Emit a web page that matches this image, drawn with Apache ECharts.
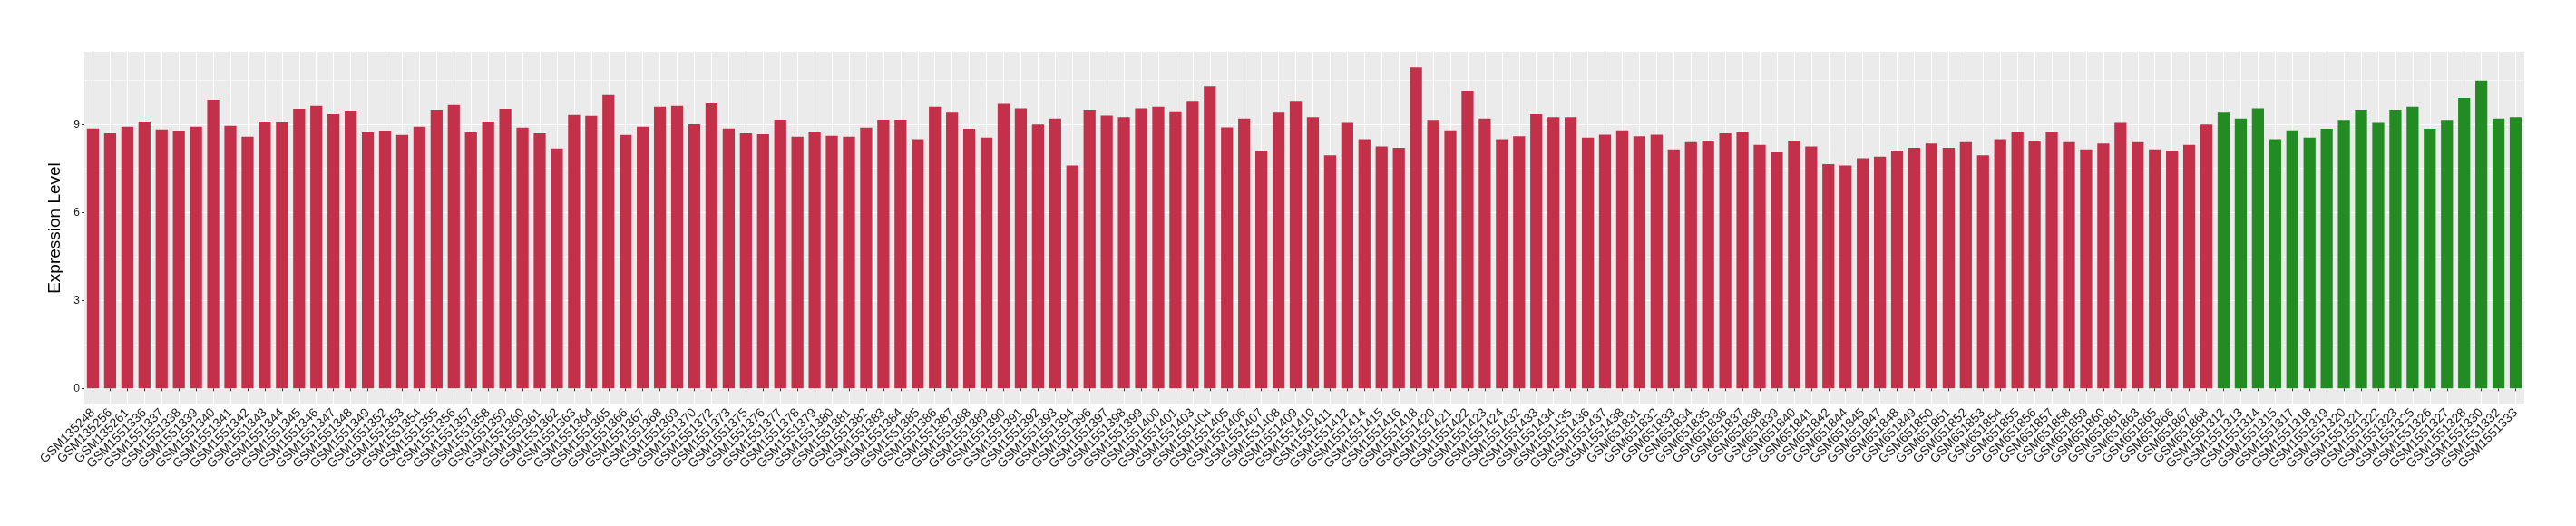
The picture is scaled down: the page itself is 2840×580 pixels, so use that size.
<!DOCTYPE html>
<html>
<head>
<meta charset="utf-8">
<script src="https://cdn.jsdelivr.net/npm/echarts@6/dist/echarts.min.js"></script>
<style>
  html, body { margin: 0; padding: 0; background: #fff; }
  #chart { width: 2840px; height: 580px; }
</style>
</head>
<body>
<div id="chart"></div>
<script>
// samples in the red group, then the green group
const redSamples = [
  'GSM135248', 'GSM135256', 'GSM135261', 'GSM1551336', 'GSM1551337', 'GSM1551338', 'GSM1551339', 'GSM1551340',
  'GSM1551341', 'GSM1551342', 'GSM1551343', 'GSM1551344', 'GSM1551345', 'GSM1551346', 'GSM1551347', 'GSM1551348',
  'GSM1551349', 'GSM1551352', 'GSM1551353', 'GSM1551354', 'GSM1551355', 'GSM1551356', 'GSM1551357', 'GSM1551358',
  'GSM1551359', 'GSM1551360', 'GSM1551361', 'GSM1551362', 'GSM1551363', 'GSM1551364', 'GSM1551365', 'GSM1551366',
  'GSM1551367', 'GSM1551368', 'GSM1551369', 'GSM1551370', 'GSM1551372', 'GSM1551373', 'GSM1551375', 'GSM1551376',
  'GSM1551377', 'GSM1551378', 'GSM1551379', 'GSM1551380', 'GSM1551381', 'GSM1551382', 'GSM1551383', 'GSM1551384',
  'GSM1551385', 'GSM1551386', 'GSM1551387', 'GSM1551388', 'GSM1551389', 'GSM1551390', 'GSM1551391', 'GSM1551392',
  'GSM1551393', 'GSM1551394', 'GSM1551396', 'GSM1551397', 'GSM1551398', 'GSM1551399', 'GSM1551400', 'GSM1551401',
  'GSM1551403', 'GSM1551404', 'GSM1551405', 'GSM1551406', 'GSM1551407', 'GSM1551408', 'GSM1551409', 'GSM1551410',
  'GSM1551411', 'GSM1551412', 'GSM1551414', 'GSM1551415', 'GSM1551416', 'GSM1551418', 'GSM1551420', 'GSM1551421',
  'GSM1551422', 'GSM1551423', 'GSM1551424', 'GSM1551432', 'GSM1551433', 'GSM1551434', 'GSM1551435', 'GSM1551436',
  'GSM1551437', 'GSM1551438', 'GSM651831', 'GSM651832', 'GSM651833', 'GSM651834', 'GSM651835', 'GSM651836',
  'GSM651837', 'GSM651838', 'GSM651839', 'GSM651840', 'GSM651841', 'GSM651842', 'GSM651844', 'GSM651845',
  'GSM651847', 'GSM651848', 'GSM651849', 'GSM651850', 'GSM651851', 'GSM651852', 'GSM651853', 'GSM651854',
  'GSM651855', 'GSM651856', 'GSM651857', 'GSM651858', 'GSM651859', 'GSM651860', 'GSM651861', 'GSM651863',
  'GSM651865', 'GSM651866', 'GSM651867', 'GSM651868'
]
const redValues = [
  8.86, 8.70, 8.92, 9.10, 8.83, 8.79, 8.92, 9.84, 8.95, 8.58,
  9.10, 9.07, 9.53, 9.63, 9.35, 9.47, 8.73, 8.79, 8.64, 8.92,
  9.50, 9.66, 8.73, 9.10, 9.53, 8.89, 8.70, 8.18, 9.32, 9.29,
  10.00, 8.64, 8.92, 9.60, 9.63, 9.01, 9.72, 8.86, 8.70, 8.67,
  9.16, 8.58, 8.76, 8.61, 8.58, 8.89, 9.16, 9.16, 8.50, 9.60,
  9.40, 8.85, 8.55, 9.70, 9.55, 9.00, 9.20, 7.60, 9.50, 9.30,
  9.25, 9.55, 9.60, 9.45, 9.80, 10.30, 8.90, 9.20, 8.10, 9.40,
  9.80, 9.25, 7.95, 9.05, 8.50, 8.25, 8.20, 10.95, 9.15, 8.80,
  10.15, 9.20, 8.50, 8.60, 9.35, 9.25, 9.25, 8.55, 8.65, 8.80,
  8.60, 8.65, 8.15, 8.40, 8.45, 8.70, 8.75, 8.30, 8.05, 8.45,
  8.25, 7.65, 7.60, 7.85, 7.90, 8.10, 8.20, 8.35, 8.20, 8.40,
  7.95, 8.50, 8.75, 8.45, 8.75, 8.40, 8.15, 8.35, 9.05, 8.40,
  8.15, 8.10, 8.30, 9.00
]
const greenSamples = [
  'GSM1551312', 'GSM1551313', 'GSM1551314', 'GSM1551315', 'GSM1551317', 'GSM1551318', 'GSM1551319', 'GSM1551320',
  'GSM1551321', 'GSM1551322', 'GSM1551323', 'GSM1551325', 'GSM1551326', 'GSM1551327', 'GSM1551328', 'GSM1551330',
  'GSM1551332', 'GSM1551333'
]
const greenValues = [
  9.40, 9.20, 9.55, 8.50, 8.80, 8.55, 8.85, 9.15, 9.50, 9.05,
  9.50, 9.60, 8.85, 9.15, 9.90, 10.50, 9.20, 9.25
]
const yTicks = [0, 3, 6, 9]
const yMinorTicks = [1.5, 4.5, 7.5, 10.5]

const categories = redSamples.concat(greenSamples)
const redData = redValues.concat(greenSamples.map(() => '-'))
const greenData = redSamples.map(() => '-').concat(greenValues)

const chart = echarts.init(document.getElementById('chart'), null, { renderer: 'canvas' })
const textFont = 'Liberation Sans, Arial, Helvetica, sans-serif'

chart.setOption({
  animation: false,
  backgroundColor: '#ffffff',
  grid: {
    left: 93,
    right: 57,
    top: 57,
    bottom: 134,
    show: true,
    backgroundColor: '#EBEBEB',
    borderWidth: 0,
    outerBoundsMode: 'none'
  },
  xAxis: {
    type: 'category',
    data: categories,
    axisLine: { show: false },
    axisTick: {
      show: true,
      alignWithLabel: true,
      interval: 0,
      length: 3,
      lineStyle: { color: '#333333', width: 1 }
    },
    splitLine: {
      show: true,
      alignWithLabel: true,
      interval: 0,
      lineStyle: { color: '#ffffff', width: 1.1 }
    },
    axisLabel: {
      interval: 0,
      rotate: 45,
      margin: 7,
      color: '#1a1a1a',
      fontSize: 14,
      fontFamily: textFont
    }
  },
  yAxis: [{
    type: 'value',
    min: -0.546,
    max: 11.48,
    name: 'Expression Level',
    nameLocation: 'middle',
    nameGap: 13,
    nameTextStyle: { color: '#000000', fontSize: 19, fontFamily: textFont },
    axisLine: { show: false },
    axisTick: {
      show: true,
      customValues: yTicks,
      length: 3,
      lineStyle: { color: '#333333', width: 1 }
    },
    axisLabel: {
      customValues: yTicks,
      margin: 5,
      color: '#1a1a1a',
      fontSize: 12,
      fontFamily: textFont
    },
    splitLine: { show: true, lineStyle: { color: '#ffffff', width: 1.1 } }
  }, {
    type: 'value',
    position: 'left',
    min: -0.546,
    max: 11.48,
    axisLine: { show: false },
    axisTick: { show: false, customValues: yMinorTicks },
    axisLabel: { show: false },
    splitLine: { show: true, lineStyle: { color: '#ffffff', width: 0.55 } }
  }],
  series: [{
    type: 'bar',
    stack: 'expr',
    data: redData,
    barWidth: '70%',
    itemStyle: { color: '#C3304A' }
  }, {
    type: 'bar',
    stack: 'expr',
    data: greenData,
    barWidth: '70%',
    itemStyle: { color: '#228B22' }
  }]
})
</script>
</body>
</html>
